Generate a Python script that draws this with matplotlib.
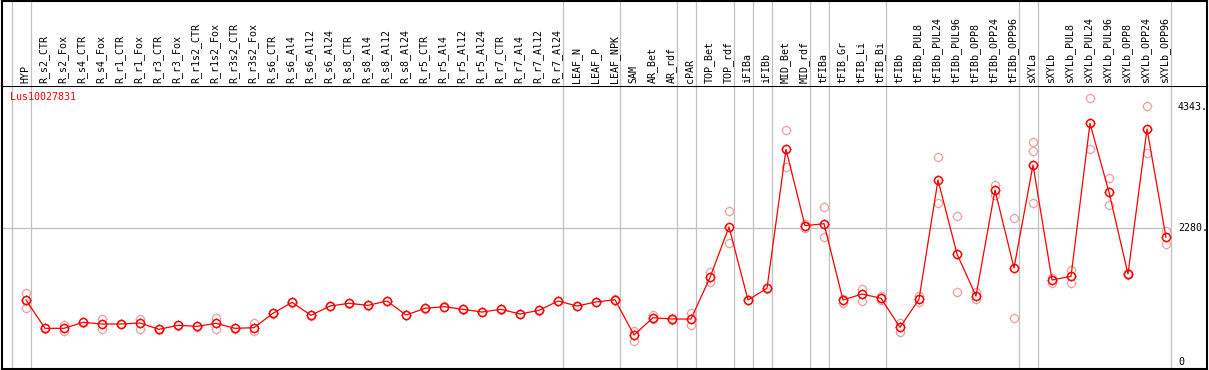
import matplotlib
matplotlib.use("Agg")
import matplotlib.pyplot as plt

# sample names along the top
samples = ["HYP", "R_s2_CTR", "R_s2_Fox", "R_s4_CTR", "R_s4_Fox", "R_r1_CTR", "R_r1_Fox",
           "R_r3_CTR", "R_r3_Fox", "R_r1s2_CTR", "R_r1s2_Fox", "R_r3s2_CTR", "R_r3s2_Fox",
           "R_s6_CTR", "R_s6_Al4", "R_s6_Al12", "R_s6_Al24", "R_s8_CTR", "R_s8_Al4",
           "R_s8_Al12", "R_s8_Al24", "R_r5_CTR", "R_r5_Al4", "R_r5_Al12", "R_r5_Al24",
           "R_r7_CTR", "R_r7_Al4", "R_r7_Al12", "R_r7_Al24", "LEAF_N", "LEAF_P", "LEAF_NPK",
           "SAM", "AR_Bet", "AR_rdf", "cPAR", "TOP_Bet", "TOP_rdf", "iFIBa", "iFIBb",
           "MID_Bet", "MID_rdf", "tFIBa", "tFIB_Gr", "tFIB_Li", "tFIB_Bi", "tFIBb",
           "tFIBb_PUL8", "tFIBb_PUL24", "tFIBb_PUL96", "tFIBb_OPP8", "tFIBb_OPP24",
           "tFIBb_OPP96", "sXYLa", "sXYLb", "sXYLb_PUL8", "sXYLb_PUL24", "sXYLb_PUL96",
           "sXYLb_OPP8", "sXYLb_OPP24", "sXYLb_OPP96"]

# mean expression per sample
means = [1052, 569, 569, 671, 643, 643, 660, 552, 620, 603, 654, 569, 580,
         825, 1012, 791, 950, 995, 961, 1035, 796,
         910, 938, 893, 847, 893, 813, 876, 1035,
         950, 1018, 1057,
         455, 750, 728, 728,
         1436, 2297, 1052, 1251,
         3621, 2319, 2353, 1052, 1154, 1081, 586,
         1064, 3098, 1836, 1120, 2927, 1598,
         3354, 1393, 1456, 4064, 2888, 1495, 3968, 2121]

# replicate values per sample
reps = [[1166, 1040, 910], [580, 560], [626, 523], [680, 662], [723, 552], [650, 636],
        [728, 563], [560, 545], [628, 612], [610, 596], [745, 563], [575, 563], [665, 518],
        [835, 815], [1020, 1004], [800, 782], [958, 942], [1003, 987], [969, 953],
        [1043, 1027], [804, 788], [918, 902], [946, 930], [901, 885], [855, 839],
        [901, 885], [821, 805], [884, 868], [1043, 1027], [958, 942], [1026, 1010],
        [1065, 1049], [529, 358], [791, 730], [740, 716], [830, 620], [1524, 1364],
        [2570, 2018], [1060, 1044], [1259, 1243], [3945, 3314], [2285, 2350],
        [2638, 2126], [996, 1070], [1234, 1030], [1115, 1045], [665, 512],
        [1120, 1013], [3485, 2701], [2479, 1188], [1183, 1069], [3013, 2842],
        [2450, 745], [3740, 3587, 2701], [1347, 1420], [1563, 1336], [4491, 3621],
        [3127, 2667], [1510, 1480], [4355, 3553], [2228, 2012]]

# group boundaries (separator drawn after these indices)
breaks = [-1, 0, 28, 31, 34, 35, 37, 38, 39, 41, 42, 45, 52, 53, 60]

scale_labels = ["4343.", "2280.", "0"]
scale_values = [4343, 2280, 0]
gene = "Lus10027831"

W, H = 1209, 370
X0, DX = 26.0, 19.0          # pixel of first sample, pixel step
Y0, DY = 361.7, 17.05        # pixel of value 0, value per pixel


def box(x0, y0, x1, y1):
    return [x0 / W, 1 - y1 / H, (x1 - x0) / W, (y1 - y0) / H]


def xi(p):
    return (p - X0) / DX


def yv(p):
    return (Y0 - p) * DY


mono = "DejaVu Sans Mono"
fs = 7.2
grey = "#c0c0c0"
pink = "#f0a0a0"

fig = plt.figure(figsize=(W / 100, H / 100), dpi=100)
ax = fig.add_axes(box(2, 86, 1207, 369))
axh = fig.add_axes(box(2, 0.7, 1207, 86))

for a in (ax, axh):
    a.set_xlim(xi(2), xi(1207))
    a.set_xticks([])
    a.set_yticks([])
    for s in a.spines.values():
        s.set_linewidth(1.5)
        s.set_color("black")
axh.spines["bottom"].set_visible(False)
axh.set_ylim(0, 1)
ax.set_ylim(yv(369), yv(86))

for b in breaks:
    ax.axvline(b + 5 / DX, color=grey, lw=0.9, zorder=0)
    axh.axvline(b + 5 / DX, color=grey, lw=0.9, zorder=0)

ax.plot([xi(2), breaks[-1] + 5 / DX], [2280, 2280], color=grey, lw=0.9, zorder=0)

for i, name in enumerate(samples):
    axh.text(i - 0.05, 3 / 86, name, rotation=90, ha="center", va="bottom",
             fontsize=fs, family=mono)

# replicates
rx = []
ry = []
for i, r in enumerate(reps):
    for v in r:
        rx.append(i)
        ry.append(v)
ax.plot(rx, ry, ls="none", marker="+", ms=7.4, mew=0.7, color=pink, zorder=2)
ax.plot(rx, ry, ls="none", marker="o", ms=5.8, mew=0.9, mec=pink, mfc="white", zorder=2)

# means
idx = list(range(len(means)))
ax.plot(idx, means, ls="none", marker="+", ms=7.6, mew=0.8, color="red", zorder=3)
ax.plot(idx, means, ls="none", marker="o", ms=5.8, mew=1.1, mec="red", mfc="white", zorder=3)
ax.plot(idx, means, color="red", lw=0.9, zorder=4)

ax.text(xi(10), yv(97), gene, color="red", fontsize=fs, family=mono, ha="left", va="center")
for lab, v in zip(scale_labels, scale_values):
    ax.text(xi(1178), v, lab, fontsize=fs, family=mono, ha="left", va="center")

fig.savefig("out.png", dpi=100)
